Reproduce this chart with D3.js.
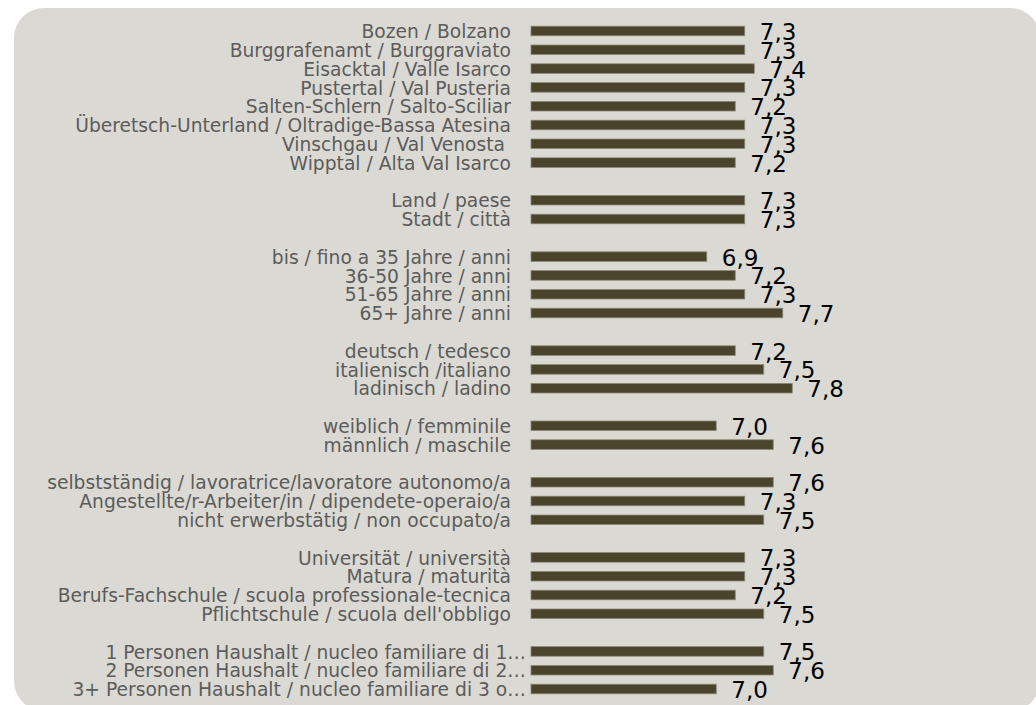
<!DOCTYPE html>
<html>
<head>
<meta charset="utf-8">
<script src="https://cdn.jsdelivr.net/npm/d3@7"></script>
<style>
  html, body { margin: 0; padding: 0; background: #fff; }
  svg { display: block; }
  text { white-space: pre; }
</style>
</head>
<body>
<div id="chart"></div>
<script>
// groups of categories, each followed by its values (blank row between groups)
var groups = [
  ["Bozen / Bolzano", "Burggrafenamt / Burggraviato", "Eisacktal / Valle Isarco", "Pustertal / Val Pusteria",
   "Salten-Schlern / Salto-Sciliar", "Überetsch-Unterland / Oltradige-Bassa Atesina", "Vinschgau / Val Venosta ",
   "Wipptal / Alta Val Isarco"],
  ["Land / paese", "Stadt / città"],
  ["bis / fino a 35 Jahre / anni", "36-50 Jahre / anni", "51-65 Jahre / anni", "65+ Jahre / anni"],
  ["deutsch / tedesco", "italienisch /italiano", "ladinisch / ladino"],
  ["weiblich / femminile", "männlich / maschile"],
  ["selbstständig / lavoratrice/lavoratore autonomo/a", "Angestellte/r-Arbeiter/in / dipendete-operaio/a",
   "nicht erwerbstätig / non occupato/a"],
  ["Universität / università", "Matura / maturità", "Berufs-Fachschule / scuola professionale-tecnica",
   "Pflichtschule / scuola dell'obbligo"],
  ["1 Personen Haushalt / nucleo familiare di 1…", "2 Personen Haushalt / nucleo familiare di 2…",
   "3+ Personen Haushalt / nucleo familiare di 3 o…"]
];
var values = [
  [7.3, 7.3, 7.4, 7.3, 7.2, 7.3, 7.3, 7.2],
  [7.3, 7.3],
  [6.9, 7.2, 7.3, 7.7],
  [7.2, 7.5, 7.8],
  [7.0, 7.6],
  [7.6, 7.3, 7.5],
  [7.3, 7.3, 7.2, 7.5],
  [7.5, 7.6, 7.0]
];

var W = 1036, H = 705;

// flatten into rows, with spacer rows between the groups
var rows = [];
groups.forEach(function(g, gi) {
  if (gi > 0) rows.push({ key: "gap" + gi, blank: true });
  g.forEach(function(label, i) {
    rows.push({ key: "r" + gi + "_" + i, label: label, value: values[gi][i] });
  });
});
var data = rows.filter(function(d){ return !d.blank; });

var svg = d3.select('#chart').append('svg')
    .attr('width', W)
    .attr('height', H);

// panel background
svg.append('rect')
    .attr('x', 14).attr('y', 8)
    .attr('width', 1026).attr('height', 703)
    .attr('rx', 30).attr('ry', 30)
    .attr('fill', '#dad9d4');

var y = d3.scaleBand()
    .domain(rows.map(function(d){ return d.key; }))
    .range([21.6, 21.6 + rows.length * 18.8])
    .paddingInner(0.49)
    .paddingOuter(0.245);

var x = d3.scaleLinear()
    .domain([5.05, 8])
    .range([531, 811.25]);

// category labels (truncated ones run right up to the bar)
svg.append('g').selectAll('text')
    .data(data)
    .enter().append('text')
    .attr('x', function(d){ return /…$/.test(d.label) ? 526 : 511; })
    .attr('y', function(d){ return y(d.key) + y.bandwidth() / 2; })
    .attr('dy', '0.39em')
    .attr('text-anchor', 'end')
    .attr('font-family', 'DejaVu Sans, Verdana, sans-serif')
    .attr('font-size', 18.7)
    .attr('fill', '#5c5c5a')
    .text(function(d){ return d.label; });

// bars
svg.append('g').selectAll('rect')
    .data(data)
    .enter().append('rect')
    .attr('x', x(5.05))
    .attr('y', function(d){ return y(d.key); })
    .attr('width', function(d){ return x(d.value) - x(5.05); })
    .attr('height', y.bandwidth())
    .attr('fill', '#4a442d')
    .attr('stroke', '#8c8776')
    .attr('stroke-width', 0.8);

// value labels
var fmt = function(v){ return d3.format('.1f')(v).replace('.', ','); };
svg.append('g').selectAll('text')
    .data(data)
    .enter().append('text')
    .attr('x', function(d){ return x(d.value) + 15; })
    .attr('y', function(d){ return y(d.key) + y.bandwidth() / 2 + 9; })
    .attr('font-family', 'DejaVu Sans, Verdana, sans-serif')
    .attr('font-size', 23)
    .attr('fill', '#000')
    .text(function(d){ return fmt(d.value); });
</script>
</body>
</html>
